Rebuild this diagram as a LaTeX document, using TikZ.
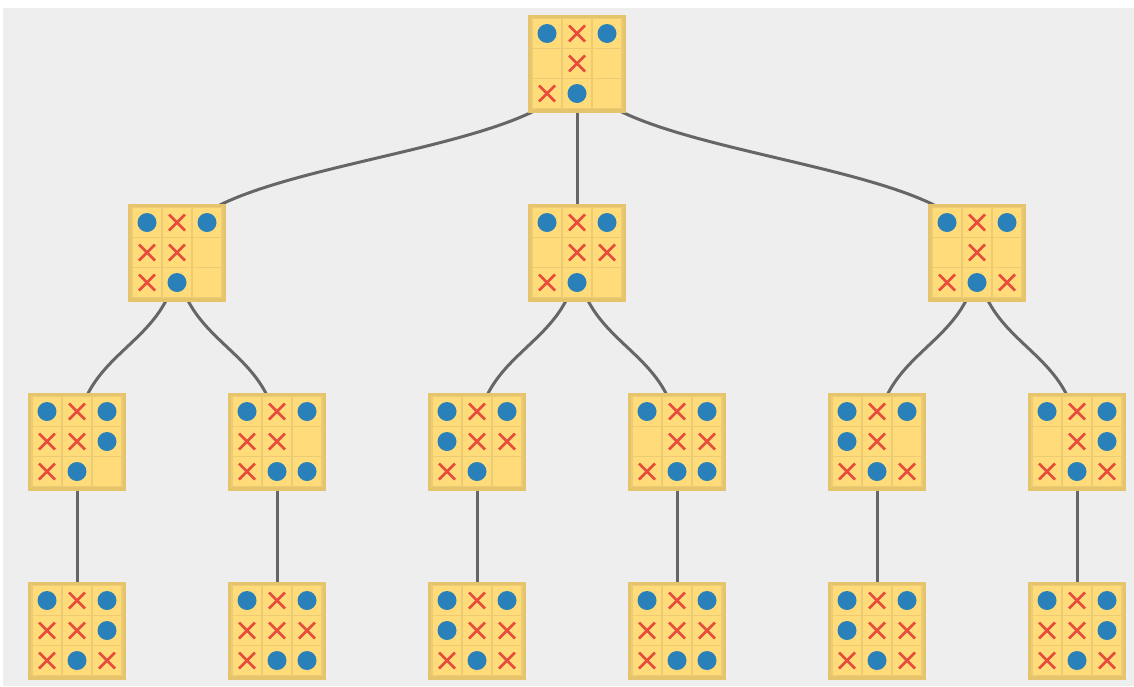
\documentclass[tikz,border=0pt]{standalone}
\usetikzlibrary{calc}
\definecolor{cbg}{HTML}{EEEEEE}
\definecolor{cboard}{HTML}{FFDB7A}
\definecolor{cedge}{HTML}{E6C46C}
\definecolor{cgrid}{HTML}{EBCB74}
\definecolor{cblue}{HTML}{2A80B9}
\definecolor{cred}{HTML}{E74C3C}
\definecolor{cgrey}{HTML}{666666}
\pgfdeclarelayer{back}
\pgfdeclarelayer{links}
\pgfsetlayers{back,links,main}
\tikzset{
  every picture/.style={x=1pt, y=1pt},
  board/.style={draw=cedge, fill=cboard, line width=3pt, minimum size=92pt, inner sep=0pt},
  cell/.style={draw=cgrid, fill=cboard, line width=1.4pt},
  dot/.style={fill=cblue},
  cross/.style={draw=cred, line width=2.6pt},
  link/.style={draw=cgrey, line width=3pt, out=-90, in=90, distance=94.5pt},
}
% \board{name}{x}{y}{nine cells, row by row: o, x or e}
\newcommand{\board}[4]{%
  \node[board] (#1) at (#2,#3) {};
  \foreach \s [count=\i from 0] in {#4} {
    \pgfmathtruncatemacro\col{mod(\i,3)}
    \pgfmathtruncatemacro\row{div(\i,3)}
    \path (#1.center) ++(\col*30-30, 30-\row*30) coordinate (p);
    \path[cell] ($(p)+(-15,-15)$) rectangle ($(p)+(15,15)$);
    \if o\s \fill[dot] (p) circle (9.5); \fi
    \if x\s \draw[cross] ($(p)+(-8,-8)$) -- ($(p)+(8,8)$) ($(p)+(-8,8)$) -- ($(p)+(8,-8)$); \fi
  }
  \draw[draw=cedge, line width=3pt] (#1.south west) rectangle (#1.north east);
}

\begin{document}
\begin{tikzpicture}
  \useasboundingbox (0,0) rectangle (1134,-686);
  \begin{pgfonlayer}{back}
    \fill[cbg] (3,-8) rectangle (1134,-686);
  \end{pgfonlayer}
  % root
  \board{b0}{577}{-63.5}{o,x,o,e,x,e,x,o,e}
  % first move
  \board{b1}{177}{-252.5}{o,x,o,x,x,e,x,o,e}
  \board{b2}{577}{-252.5}{o,x,o,e,x,x,x,o,e}
  \board{b3}{977}{-252.5}{o,x,o,e,x,e,x,o,x}
  % second move
  \board{b11}{77}{-441.5}{o,x,o,x,x,o,x,o,e}
  \board{b12}{277}{-441.5}{o,x,o,x,x,e,x,o,o}
  \board{b21}{477}{-441.5}{o,x,o,o,x,x,x,o,e}
  \board{b22}{677}{-441.5}{o,x,o,e,x,x,x,o,o}
  \board{b31}{877}{-441.5}{o,x,o,o,x,e,x,o,x}
  \board{b32}{1077}{-441.5}{o,x,o,e,x,o,x,o,x}
  % last move
  \board{b111}{77}{-630.5}{o,x,o,x,x,o,x,o,x}
  \board{b121}{277}{-630.5}{o,x,o,x,x,x,x,o,o}
  \board{b211}{477}{-630.5}{o,x,o,o,x,x,x,o,x}
  \board{b221}{677}{-630.5}{o,x,o,x,x,x,x,o,o}
  \board{b311}{877}{-630.5}{o,x,o,o,x,x,x,o,x}
  \board{b321}{1077}{-630.5}{o,x,o,x,x,o,x,o,x}
  \begin{pgfonlayer}{links}
    \draw[link] (b0.center) to (b1.center);
    \draw[link] (b0.center) to (b2.center);
    \draw[link] (b0.center) to (b3.center);
    \draw[link] (b1.center) to (b11.center);
    \draw[link] (b1.center) to (b12.center);
    \draw[link] (b2.center) to (b21.center);
    \draw[link] (b2.center) to (b22.center);
    \draw[link] (b3.center) to (b31.center);
    \draw[link] (b3.center) to (b32.center);
    \draw[link] (b11.center) to (b111.center);
    \draw[link] (b12.center) to (b121.center);
    \draw[link] (b21.center) to (b211.center);
    \draw[link] (b22.center) to (b221.center);
    \draw[link] (b31.center) to (b311.center);
    \draw[link] (b32.center) to (b321.center);
  \end{pgfonlayer}
\end{tikzpicture}
\end{document}
